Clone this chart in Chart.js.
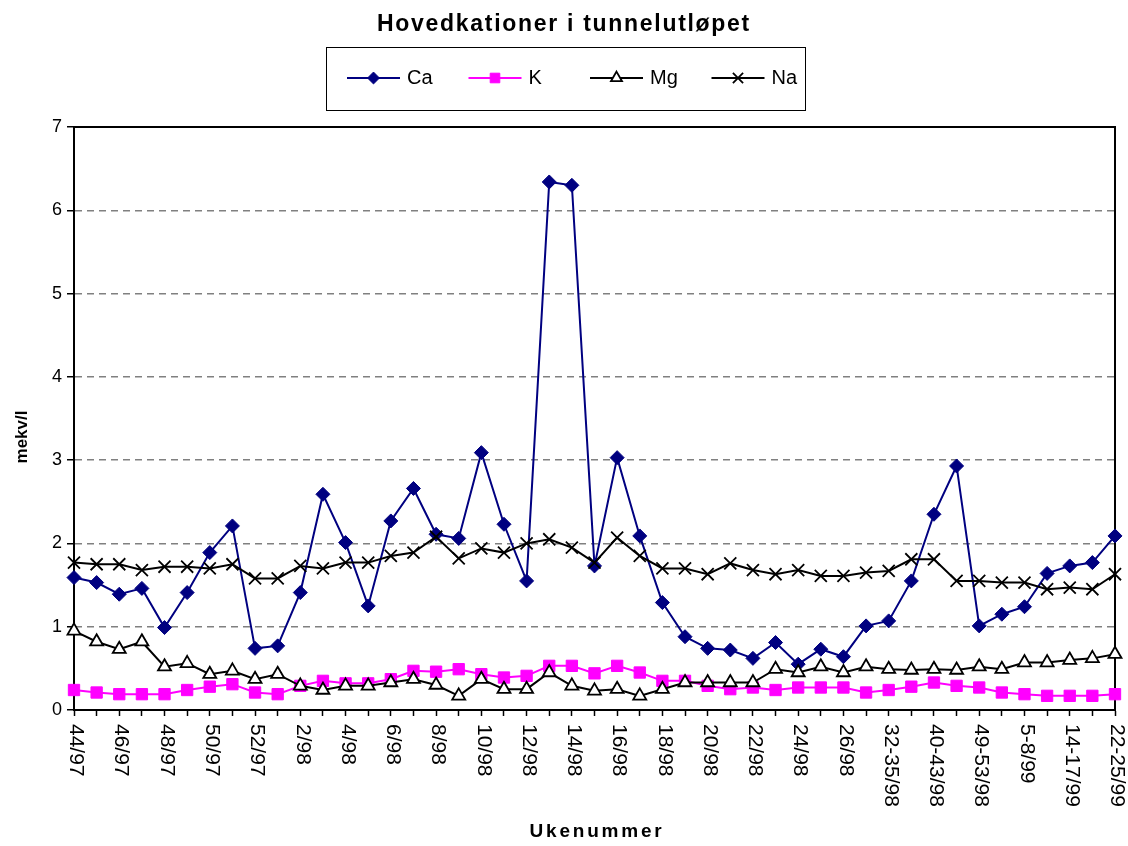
<!DOCTYPE html>
<html>
<head>
<meta charset="utf-8">
<title>Hovedkationer i tunnelutløpet</title>
<script src="https://cdn.jsdelivr.net/npm/chart.js@4.4.1/dist/chart.umd.min.js"></script>
<style>
    html, body { margin: 0; padding: 0; background: #fff; }
    #chart { display: block; }
</style>
</head>
<body>
<canvas id="chart" width="1128" height="846"></canvas>
<script>
    "use strict";

    // Data
    var uker = ['44/97', '45/97', '46/97', '47/97', '48/97', '49/97', '50/97', '51/97', '52/97', '1/98',
        '2/98', '3/98', '4/98', '5/98', '6/98', '7/98', '8/98', '9/98', '10/98', '11/98',
        '12/98', '13/98', '14/98', '15/98', '16/98', '17/98', '18/98', '19/98', '20/98', '21/98',
        '22/98', '23/98', '24/98', '25/98', '26/98', '27-31/98', '32-35/98', '36-39/98', '40-43/98', '44-48/98',
        '49-53/98', '1-4/99', '5-8/99', '9-13/99', '14-17/99', '18-21/99', '22-25/99'];

    var ca = [1.59, 1.53, 1.39, 1.46, 0.99, 1.41, 1.89, 2.21, 0.74, 0.77,
        1.41, 2.59, 2.01, 1.25, 2.27, 2.66, 2.11, 2.06, 3.09, 2.23,
        1.55, 6.34, 6.30, 1.73, 3.03, 2.09, 1.29, 0.88, 0.74, 0.72,
        0.62, 0.81, 0.55, 0.73, 0.64, 1.01, 1.07, 1.55, 2.35, 2.93,
        1.01, 1.15, 1.24, 1.64, 1.73, 1.77, 2.09];

    var k = [0.24, 0.21, 0.19, 0.19, 0.19, 0.24, 0.28, 0.31, 0.21, 0.19,
        0.29, 0.35, 0.32, 0.32, 0.37, 0.47, 0.46, 0.49, 0.43, 0.39,
        0.41, 0.53, 0.53, 0.44, 0.53, 0.45, 0.35, 0.35, 0.29, 0.25,
        0.27, 0.24, 0.27, 0.27, 0.27, 0.21, 0.24, 0.28, 0.33, 0.29,
        0.27, 0.21, 0.19, 0.17, 0.17, 0.17, 0.19];

    var mg = [0.95, 0.82, 0.73, 0.82, 0.52, 0.56, 0.43, 0.47, 0.37, 0.43,
        0.29, 0.24, 0.29, 0.29, 0.33, 0.37, 0.30, 0.17, 0.37, 0.25,
        0.25, 0.45, 0.29, 0.23, 0.25, 0.17, 0.25, 0.33, 0.33, 0.33,
        0.33, 0.49, 0.45, 0.52, 0.45, 0.52, 0.49, 0.48, 0.49, 0.48,
        0.52, 0.49, 0.57, 0.57, 0.60, 0.62, 0.67];

    var na = [1.77, 1.75, 1.75, 1.68, 1.72, 1.72, 1.70, 1.75, 1.58, 1.58,
        1.73, 1.70, 1.77, 1.77, 1.85, 1.89, 2.08, 1.82, 1.94, 1.89,
        2.00, 2.05, 1.95, 1.77, 2.07, 1.85, 1.70, 1.70, 1.63, 1.76,
        1.68, 1.63, 1.68, 1.61, 1.61, 1.65, 1.67, 1.81, 1.81, 1.55,
        1.55, 1.53, 1.53, 1.45, 1.47, 1.45, 1.63];

    var yTicks = [0, 1, 2, 3, 4, 5, 6, 7];

    var tittel = 'Hovedkationer i tunnelutløpet';
    var xTittel = 'Ukenummer';
    var yTittel = 'mekv/l';

    var FONT = '"Liberation Sans", Arial, sans-serif';

    // Title, legend box, axis titles, rotated week labels, plot frame
    var pynt = {
        id: 'pynt',
        beforeDatasetsDraw: function (chart) {
            var ctx = chart.ctx, a = chart.chartArea;
            ctx.save();
            ctx.strokeStyle = '#000';
            ctx.lineWidth = 2;
            ctx.beginPath();
            ctx.moveTo(a.left, a.top);
            ctx.lineTo(a.right, a.top);
            ctx.lineTo(a.right, a.bottom);
            ctx.stroke();
            ctx.restore();
        },
        afterDraw: function (chart) {
            var ctx = chart.ctx, a = chart.chartArea;
            var xs = chart.scales.x;
            ctx.save();
            ctx.fillStyle = '#000';

            // title
            ctx.font = 'bold 23px ' + FONT;
            ctx.letterSpacing = '1.7px';
            ctx.textAlign = 'center';
            ctx.textBaseline = 'middle';
            ctx.fillText(tittel, 564, 25);

            // x title
            ctx.font = 'bold 19px ' + FONT;
            ctx.letterSpacing = '2.8px';
            ctx.fillText(xTittel, 597, 832);

            // y title
            ctx.letterSpacing = '0px';
            ctx.save();
            ctx.translate(22, 437);
            ctx.rotate(-Math.PI / 2);
            ctx.font = 'bold 17px ' + FONT;
            ctx.fillText(yTittel, 0, 0);
            ctx.restore();

            // week labels, turned clockwise
            ctx.font = '21px ' + FONT;
            ctx.textAlign = 'left';
            ctx.textBaseline = 'middle';
            xs.ticks.forEach(function (t, i) {
                if (!t.label) return;
                ctx.save();
                ctx.translate(xs.getPixelForTick(i) + 2, a.bottom + 14);
                ctx.rotate(Math.PI / 2);
                ctx.fillText(t.label, 0, 0);
                ctx.restore();
            });

            // legend
            ctx.lineWidth = 1;
            ctx.strokeStyle = '#000';
            ctx.strokeRect(326.5, 47.5, 479, 63);
            ctx.font = '20px ' + FONT;
            chart.data.datasets.forEach(function (ds, i) {
                var x0 = 347 + i * 121.5, y = 78;
                ctx.strokeStyle = ds.borderColor;
                ctx.lineWidth = ds.borderWidth;
                ctx.beginPath();
                ctx.moveTo(x0, y);
                ctx.lineTo(x0 + 53, y);
                ctx.stroke();
                ctx.fillStyle = ds.pointBackgroundColor;
                ctx.strokeStyle = ds.pointBorderColor;
                ctx.lineWidth = ds.pointBorderWidth;
                Chart.helpers.drawPoint(ctx, {
                    pointStyle: ds.pointStyle,
                    rotation: 0,
                    radius: ds.pointRadius * 0.85,
                    borderWidth: ds.pointBorderWidth
                }, x0 + 26.5, y);
                ctx.fillStyle = '#000';
                ctx.fillText(ds.label, x0 + 60, y);
            });
            ctx.restore();
        }
    };

    var ctx = document.getElementById('chart').getContext('2d');
    var diagram = new Chart(ctx, {
        type: 'line',
        data: {
            labels: uker,
            datasets: [{
                    label: 'Ca',
                    data: ca,
                    borderColor: '#000080',
                    borderWidth: 2,
                    pointStyle: 'rectRot',
                    pointRadius: 7,
                    pointBackgroundColor: '#000080',
                    pointBorderColor: '#000080',
                    pointBorderWidth: 1,
                    order: 3
                },
                {
                    label: 'K',
                    data: k,
                    borderColor: '#ff00ff',
                    borderWidth: 2,
                    pointStyle: 'rect',
                    pointRadius: 8,
                    pointBackgroundColor: '#ff00ff',
                    pointBorderColor: '#ff00ff',
                    pointBorderWidth: 1,
                    order: 2
                },
                {
                    label: 'Mg',
                    data: mg,
                    borderColor: '#000',
                    borderWidth: 2,
                    pointStyle: 'triangle',
                    pointRadius: 7.5,
                    pointBackgroundColor: '#fff',
                    pointBorderColor: '#000',
                    pointBorderWidth: 1.8,
                    order: 1
                },
                {
                    label: 'Na',
                    data: na,
                    borderColor: '#000',
                    borderWidth: 2,
                    pointStyle: 'crossRot',
                    pointRadius: 8.5,
                    pointBackgroundColor: '#000',
                    pointBorderColor: '#000',
                    pointBorderWidth: 1.8,
                    order: 0
                }
            ]
        },
        options: {
            responsive: false,
            devicePixelRatio: 1,
            animation: false,
            events: [],
            layout: {
                padding: { top: 127, right: 13, left: 0, bottom: 0 }
            },
            elements: {
                line: { tension: 0 }
            },
            plugins: {
                legend: { display: false },
                title: { display: false },
                tooltip: { enabled: false }
            },
            scales: {
                x: {
                    offset: false,
                    afterFit: function (s) { s.height = 136; },
                    grid: {
                        drawOnChartArea: false,
                        drawTicks: true,
                        tickLength: 6,
                        tickColor: '#000',
                        tickWidth: 1.5
                    },
                    border: { color: '#000', width: 2 },
                    ticks: {
                        display: false,
                        autoSkip: false,
                        callback: function (v, i) { return i % 2 === 0 ? uker[i] : ''; }
                    }
                },
                y: {
                    min: yTicks[0],
                    max: yTicks[yTicks.length - 1],
                    afterFit: function (s) { s.width = 74; },
                    afterBuildTicks: function (s) {
                        s.ticks = yTicks.map(function (v) { return { value: v }; });
                    },
                    grid: {
                        color: function (c) {
                            var v = c.tick && c.tick.value;
                            return (v === 0 || v === 7) ? 'rgba(0,0,0,0)' : '#808080';
                        },
                        lineWidth: 1.5,
                        tickLength: 7,
                        tickColor: '#000',
                        tickWidth: 1.5
                    },
                    border: { color: '#000', width: 2, dash: [7, 5] },
                    ticks: {
                        color: '#000',
                        padding: 5,
                        font: { family: FONT, size: 18 }
                    }
                }
            }
        },
        plugins: [pynt]
    });
</script>
</body>
</html>
